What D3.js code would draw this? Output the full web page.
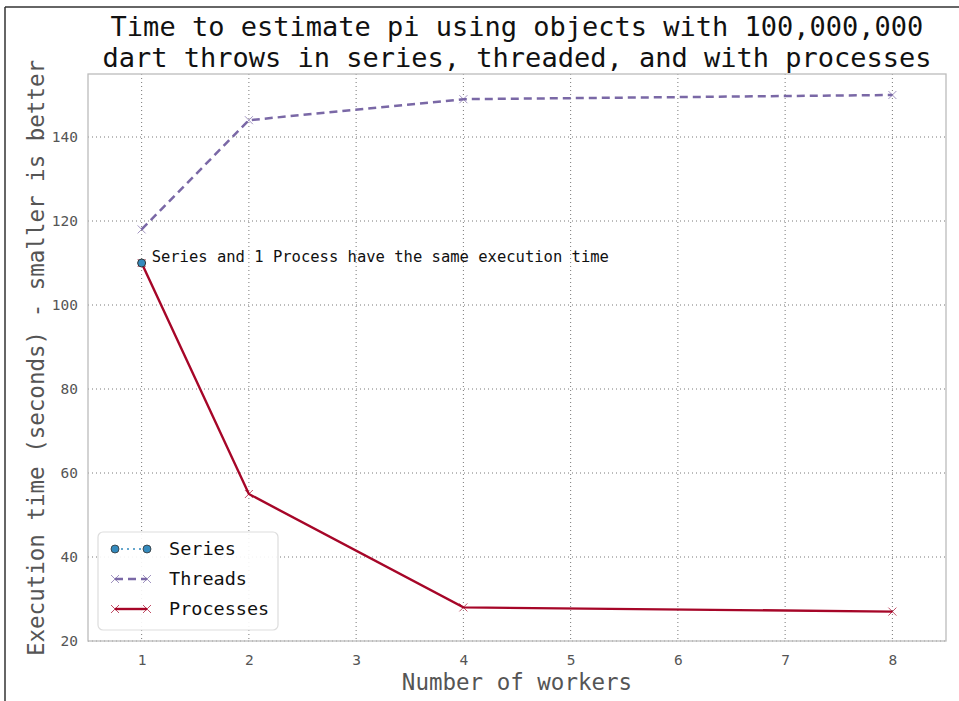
<!DOCTYPE html>
<html>
<head>
<meta charset="utf-8">
<script src="https://cdn.jsdelivr.net/npm/d3@7"></script>
<style>
  body { margin: 0; background: #fff; }
  text { font-family: "DejaVu Sans Mono", monospace; }
</style>
</head>
<body>
<svg id="chart"></svg>
<script>
// data
const workers = [1, 2, 4, 8];
const threadTimes = [118, 144, 149, 150];
const processTimes = [110, 55, 28, 27];
const seriesWorkers = [1];
const seriesTimes = [110];
const xTicks = [1, 2, 3, 4, 5, 6, 7, 8];
const yTicks = [20, 40, 60, 80, 100, 120, 140];

const width = 959, height = 701;
const margin = { top: 74, right: 13, bottom: 60, left: 88 };

const svg = d3.select("#chart").attr("width", width).attr("height", height);

// frame lines at left/top of the figure
svg.append("line").attr("x1", 5).attr("x2", width).attr("y1", 7).attr("y2", 7)
  .attr("stroke", "#333").attr("stroke-width", 1.5);
svg.append("line").attr("x1", 5).attr("x2", 5).attr("y1", 7).attr("y2", height)
  .attr("stroke", "#333").attr("stroke-width", 1.5);

const x = d3.scaleLinear().domain([0.5, 8.5]).range([margin.left, width - margin.right]);
const y = d3.scaleLinear().domain([20, 155]).range([height - margin.bottom, margin.top]);

// grid
const grid = svg.append("g").attr("stroke", "#555").attr("stroke-dasharray", "1,3").attr("stroke-width", 0.8);
grid.selectAll("line.v").data(xTicks).enter().append("line")
  .attr("x1", d => x(d)).attr("x2", d => x(d))
  .attr("y1", y(155)).attr("y2", y(20));
grid.selectAll("line.h").data(yTicks).enter().append("line")
  .attr("x1", x(0.5)).attr("x2", x(8.5))
  .attr("y1", d => y(d)).attr("y2", d => y(d));

// frame of plot
svg.append("rect")
  .attr("x", x(0.5)).attr("y", y(155))
  .attr("width", x(8.5) - x(0.5)).attr("height", y(20) - y(155))
  .attr("fill", "none").attr("stroke", "#bcbcbc").attr("stroke-width", 1.3);

// axes
const xAxis = svg.append("g").attr("transform", `translate(0,${y(20)})`)
  .call(d3.axisBottom(x).tickValues(xTicks).tickSize(0).tickPadding(14));
const yAxis = svg.append("g").attr("transform", `translate(${x(0.5)},0)`)
  .call(d3.axisLeft(y).tickValues(yTicks).tickSize(0).tickPadding(10));
[xAxis, yAxis].forEach(a => {
  a.select(".domain").remove();
  a.selectAll("text").attr("fill", "#555").style("font-size", "14.5px")
    .style("font-family", "DejaVu Sans Mono, monospace");
});

const line = d3.line().x(d => x(d[0])).y(d => y(d[1]));
const threadPts = workers.map((w, i) => [w, threadTimes[i]]);
const procPts = workers.map((w, i) => [w, processTimes[i]]);
const seriesPts = seriesWorkers.map((w, i) => [w, seriesTimes[i]]);

function xMark(g, pts, color, s) {
  g.selectAll("path.mk").data(pts).enter().append("path")
    .attr("d", d => `M${x(d[0]) - s},${y(d[1]) - s}L${x(d[0]) + s},${y(d[1]) + s}M${x(d[0]) - s},${y(d[1]) + s}L${x(d[0]) + s},${y(d[1]) - s}`)
    .attr("stroke", color).attr("stroke-width", 1).attr("fill", "none").attr("opacity", 0.7);
}

// threads
const tG = svg.append("g");
tG.append("path").datum(threadPts).attr("d", line)
  .attr("fill", "none").attr("stroke", "#7A68A6").attr("stroke-width", 2.5)
  .attr("stroke-dasharray", "8,5");
xMark(tG, threadPts, "#7A68A6", 4);

// processes
const pG = svg.append("g");
pG.append("path").datum(procPts).attr("d", line)
  .attr("fill", "none").attr("stroke", "#A60628").attr("stroke-width", 2.4);
xMark(pG, procPts, "#A60628", 4);

// series
svg.selectAll("circle.series").data(seriesPts).enter().append("circle")
  .attr("cx", d => x(d[0])).attr("cy", d => y(d[1])).attr("r", 4)
  .attr("fill", "#348ABD").attr("stroke", "#333").attr("stroke-width", 1);

// annotation
svg.append("text").attr("x", x(1) + 10).attr("y", y(110) - 1)
  .attr("font-size", 15.5).attr("fill", "#111")
  .text("Series and 1 Process have the same execution time");

// title
const title = svg.append("text").attr("text-anchor", "middle").attr("font-size", 27).attr("fill", "#111");
title.append("tspan").attr("x", (x(0.5) + x(8.5)) / 2).attr("y", 36)
  .text("Time to estimate pi using objects with 100,000,000");
title.append("tspan").attr("x", (x(0.5) + x(8.5)) / 2).attr("y", 67)
  .text("dart throws in series, threaded, and with processes");

// axis labels
svg.append("text").attr("x", (x(0.5) + x(8.5)) / 2).attr("y", 690)
  .attr("text-anchor", "middle").attr("font-size", 22.5).attr("fill", "#555")
  .text("Number of workers");
svg.append("text").attr("transform", `translate(44,358) rotate(-90)`)
  .attr("text-anchor", "middle").attr("font-size", 22.5).attr("fill", "#555")
  .text("Execution time (seconds) - smaller is better");

// legend
const legend = svg.append("g").attr("transform", "translate(98,532)");
legend.append("rect").attr("width", 180).attr("height", 98).attr("rx", 5)
  .attr("fill", "#fff").attr("fill-opacity", 0.9).attr("stroke", "#ddd").attr("stroke-width", 1.2);
const items = [
  { name: "Series", color: "#348ABD", dash: "2,4", type: "o", w: 1.5 },
  { name: "Threads", color: "#7A68A6", dash: "8,5", type: "x", w: 2.5 },
  { name: "Processes", color: "#A60628", dash: null, type: "x", w: 2.4 }
];
items.forEach((it, i) => {
  const cy = 17 + i * 30;
  const g = legend.append("g");
  g.append("line").attr("x1", 17).attr("x2", 49).attr("y1", cy).attr("y2", cy)
    .attr("stroke", it.color).attr("stroke-width", it.w)
    .attr("stroke-dasharray", it.dash);
  [17, 49].forEach(px => {
    if (it.type === "o") {
      g.append("circle").attr("cx", px).attr("cy", cy).attr("r", 4)
        .attr("fill", it.color).attr("stroke", "#333").attr("stroke-width", 0.8);
    } else {
      g.append("path").attr("d", `M${px - 4},${cy - 4}L${px + 4},${cy + 4}M${px - 4},${cy + 4}L${px + 4},${cy - 4}`)
        .attr("stroke", it.color).attr("stroke-width", 1).attr("opacity", 0.7);
    }
  });
  g.append("text").attr("x", 71).attr("y", cy + 6).attr("font-size", 18.5).attr("fill", "#111")
    .text(it.name);
});
</script>
</body>
</html>
